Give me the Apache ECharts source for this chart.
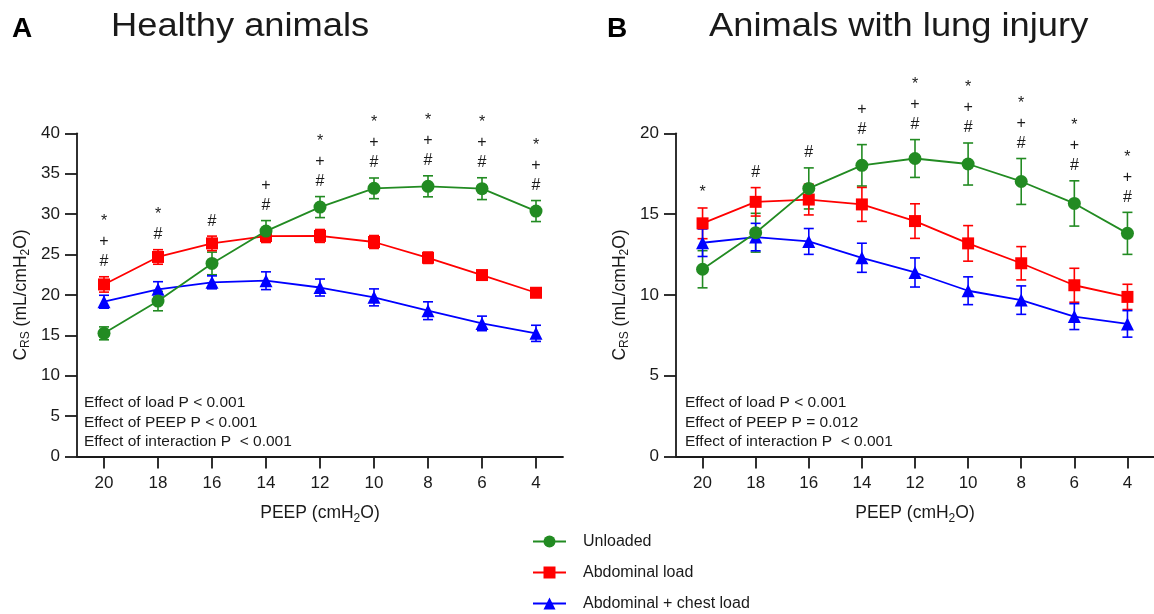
<!DOCTYPE html>
<html>
<head>
<meta charset="utf-8">
<script src="https://cdn.jsdelivr.net/npm/echarts@6/dist/echarts.min.js"></script>
<style>
html,body{margin:0;padding:0;background:#fff;}
#chart{width:1154px;height:614px;}
</style>
</head>
<body>
<div id="chart"></div>
<script>
// ---------- data ----------
const categories = ['20','18','16','14','12','10','8','6','4'];
const seriesNames = ['Unloaded','Abdominal load','Abdominal + chest load'];

// Panel A: healthy animals
const unloadedA      = [15.25, 19.24, 23.9, 27.9, 30.87, 33.19, 33.44, 33.15, 30.38];
const unloadedAErr   = [0.8, 1.2, 1.4, 1.3, 1.3, 1.28, 1.3, 1.35, 1.3];
const abdominalA     = [21.3, 24.7, 26.38, 27.29, 27.3, 26.55, 24.6, 22.46, 20.27];
const abdominalAErr  = [0.95, 0.9, 0.9, 0.8, 0.8, 0.8, 0.7, 0.5, 0.5];
const chestA         = [19.16, 20.69, 21.56, 21.76, 20.92, 19.7, 18.05, 16.48, 15.25];
const chestAErr      = [0.8, 0.95, 0.8, 1.1, 1.05, 1.05, 1.1, 0.9, 1.0];
const annotA         = ['*+#','*#','#','+#','*+#','*+#','*+#','*+#','*+#'];
const statsA         = ['Effect of load P < 0.001','Effect of PEEP P < 0.001','Effect of interaction P  < 0.001'];

// Panel B: lung injury
const unloadedB      = [11.59, 13.85, 16.59, 18.02, 18.44, 18.1, 17.02, 15.66, 13.81];
const unloadedBErr   = [1.15, 1.2, 1.27, 1.28, 1.17, 1.3, 1.42, 1.4, 1.3];
const abdominalB     = [14.43, 15.76, 15.9, 15.6, 14.57, 13.19, 11.96, 10.6, 9.88];
const abdominalBErr  = [0.95, 0.88, 0.95, 1.05, 1.07, 1.1, 1.03, 1.05, 0.78];
const chestB         = [13.23, 13.58, 13.31, 12.3, 11.39, 10.26, 9.68, 8.66, 8.21];
const chestBErr      = [0.85, 0.85, 0.8, 0.9, 0.9, 0.86, 0.88, 0.8, 0.82];
const annotB         = ['*','#','#','+#','*+#','*+#','*+#','*+#','*+#'];
const statsB         = ['Effect of load P < 0.001','Effect of PEEP P = 0.012','Effect of interaction P  < 0.001'];

const yMaxA = 40, yMaxB = 20, yStep = 5;

// ---------- style ----------
const FONT = '"Liberation Sans", Arial, Helvetica, sans-serif';
const INK = '#1a1a1a';
const colors = ['#228B22', '#ff0000', '#0000ff'];
const symbols = ['circle', 'rect', 'triangle'];
const symSizes = [13, 12, 13];

function errRender(params, api) {
  const lo = api.coord([api.value(0), api.value(1)]);
  const hi = api.coord([api.value(0), api.value(2)]);
  const w = 5;
  const style = { stroke: api.visual('color'), lineWidth: 1.6 };
  return {
    type: 'group',
    children: [
      { type: 'line', shape: { x1: lo[0], y1: lo[1], x2: hi[0], y2: hi[1] }, style },
      { type: 'line', shape: { x1: hi[0] - w, y1: hi[1], x2: hi[0] + w, y2: hi[1] }, style },
      { type: 'line', shape: { x1: lo[0] - w, y1: lo[1], x2: lo[0] + w, y2: lo[1] }, style }
    ]
  };
}

function makeAnnotRender(annot) {
  return function (params, api) {
    const p = api.coord([api.value(0), api.value(1)]);
    const chars = annot[params.dataIndex].split('');
    const n = chars.length;
    const children = chars.map((c, k) => ({
      type: 'text',
      style: {
        text: c, x: p[0], y: p[1] - 15 - (n - 1 - k) * 20,
        align: 'center', verticalAlign: 'middle',
        fontSize: 16, fontFamily: FONT, fill: INK
      }
    }));
    return { type: 'group', children };
  };
}

function panelSeries(gi, vals, errs, annot) {
  const out = [];
  vals.forEach((v, s) => {
    out.push({
      type: 'custom', xAxisIndex: gi, yAxisIndex: gi, z: 2,
      itemStyle: { color: colors[s] },
      renderItem: errRender,
      encode: { x: 0, y: [1, 2] },
      data: v.map((d, i) => [i, d - errs[s][i], d + errs[s][i]]),
      silent: true, animation: false
    });
  });
  [2, 1, 0].forEach(s => {
    out.push({
      type: 'line', name: seriesNames[s], xAxisIndex: gi, yAxisIndex: gi, z: 3 + (2 - s),
      data: vals[s], symbol: symbols[s], symbolSize: symSizes[s],
      showSymbol: true,
      itemStyle: { color: colors[s], opacity: 1 },
      lineStyle: { color: colors[s], width: 1.8 },
      emphasis: { disabled: true }, animation: false
    });
  });
  const tops = annot.map((a, i) => Math.max(...vals.map((v, s) => v[i] + errs[s][i])));
  out.push({
    type: 'custom', xAxisIndex: gi, yAxisIndex: gi, z: 10,
    renderItem: makeAnnotRender(annot),
    encode: { x: 0, y: 1 },
    data: tops.map((t, i) => [i, t]),
    silent: true, animation: false
  });
  return out;
}

const yName = '{c|C}{s|RS}{c| (mL/cmH}{s|2}{c|O)}';
const xName = '{c|PEEP (cmH}{s|2}{c|O)}';
const nameRich = {
  c: { fontSize: 17.5, fontFamily: FONT, color: INK, lineHeight: 22, verticalAlign: 'middle' },
  s: { fontSize: 12, fontFamily: FONT, color: INK, lineHeight: 13, verticalAlign: 'bottom' }
};

function xAxisCfg(gi) {
  return {
    type: 'category', gridIndex: gi, data: categories, boundaryGap: true,
    axisLine: { show: true, lineStyle: { color: INK, width: 1.8 } },
    axisTick: { show: true, alignWithLabel: true, length: 12, lineStyle: { color: INK, width: 1.8 } },
    axisLabel: { color: INK, fontSize: 17, fontFamily: FONT, margin: 18 },
    splitLine: { show: false },
    name: xName, nameLocation: 'middle', nameGap: 46,
    nameTextStyle: { rich: nameRich }
  };
}
function yAxisCfg(gi, max) {
  return {
    type: 'value', gridIndex: gi, min: 0, max: max, interval: yStep,
    axisLine: { show: true, lineStyle: { color: INK, width: 1.8 } },
    axisTick: { show: true, length: 12, lineStyle: { color: INK, width: 1.8 } },
    axisLabel: { color: INK, fontSize: 17, fontFamily: FONT, margin: 17 },
    splitLine: { show: false },
    name: yName, nameLocation: 'middle', nameGap: 45, nameRotate: 90,
    nameTextStyle: { rich: nameRich }
  };
}

function statsGraphic(lines, x) {
  return lines.map((t, i) => ({
    type: 'text', left: x, top: 395 + i * 19.3,
    style: { text: t, fontSize: 15.5, fontFamily: FONT, fill: INK }
  }));
}

const option = {
  backgroundColor: '#ffffff',
  animation: false,
  grid: [
    { left: 77, top: 133.3, width: 486, height: 323.3 },
    { left: 676, top: 133.3, width: 487, height: 323.3 }
  ],
  xAxis: [xAxisCfg(0), xAxisCfg(1)],
  yAxis: [yAxisCfg(0, yMaxA), yAxisCfg(1, yMaxB)],
  legend: {
    orient: 'vertical', left: 532, top: 533, padding: 0, height: 90,
    data: seriesNames,
    itemWidth: 33, itemHeight: 15, itemGap: 14,
    textStyle: { fontSize: 16, fontFamily: FONT, color: INK, lineHeight: 17, padding: [0, 0, 0, 12] },
    selectedMode: false
  },
  graphic: [
    { type: 'text', left: 12, top: 15, style: { text: 'A', fontSize: 28, fontWeight: 'bold', fontFamily: FONT, fill: '#000' } },
    { type: 'text', left: 111, top: 10, scaleX: 1.1, style: { text: 'Healthy animals', fontSize: 33, fontFamily: FONT, fill: INK } },
    { type: 'text', left: 607, top: 15, style: { text: 'B', fontSize: 28, fontWeight: 'bold', fontFamily: FONT, fill: '#000' } },
    { type: 'text', left: 709, top: 10, scaleX: 1.1, style: { text: 'Animals with lung injury', fontSize: 33, fontFamily: FONT, fill: INK } }
  ].concat(statsGraphic(statsA, 84), statsGraphic(statsB, 685)),
  series: [].concat(
    panelSeries(0, [unloadedA, abdominalA, chestA], [unloadedAErr, abdominalAErr, chestAErr], annotA),
    panelSeries(1, [unloadedB, abdominalB, chestB], [unloadedBErr, abdominalBErr, chestBErr], annotB)
  )
};

const chart = echarts.init(document.getElementById('chart'), null, { renderer: 'canvas' });
chart.setOption(option);
</script>
</body>
</html>
